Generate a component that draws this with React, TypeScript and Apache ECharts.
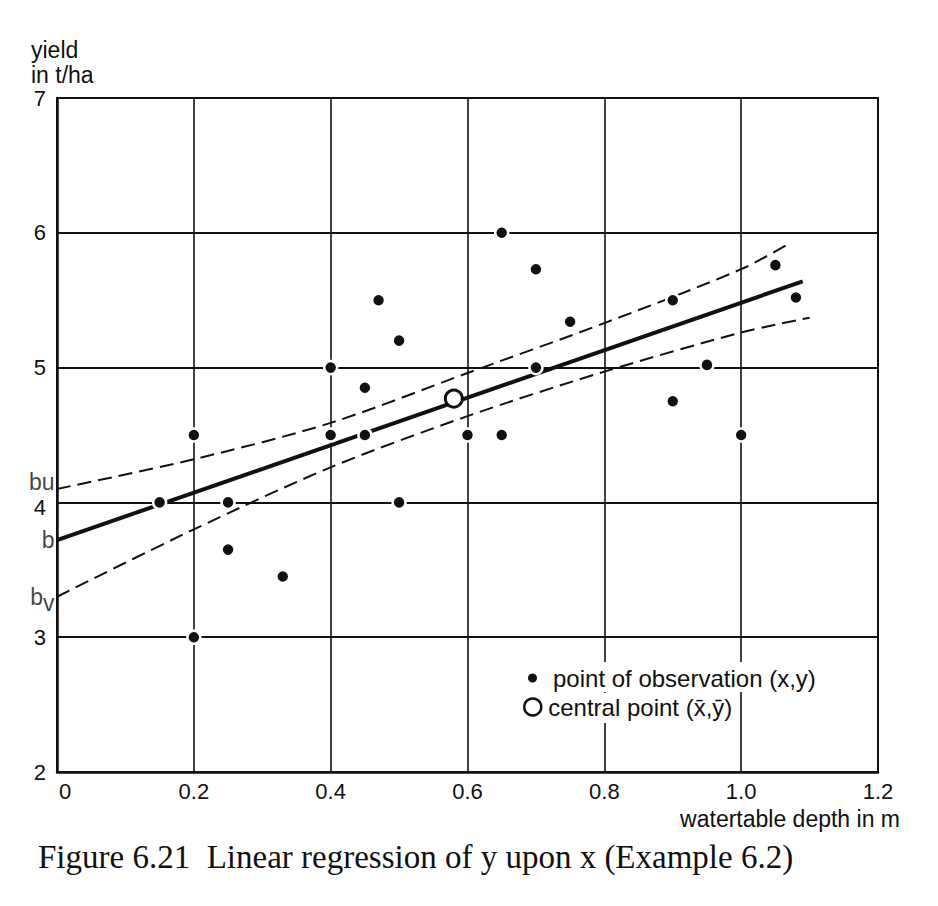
import React, { useEffect, useRef } from "react";
import * as echarts from "echarts";

// Observation points (watertable depth in m, yield in t/ha)
const obsX = [0.15, 0.2, 0.2, 0.25, 0.25, 0.33, 0.4, 0.4, 0.45, 0.45, 0.47, 0.5, 0.5, 0.6, 0.65, 0.65, 0.7, 0.7, 0.75, 0.9, 0.9, 0.95, 1.0, 1.05, 1.08];
const obsY = [4.0, 4.5, 3.0, 4.0, 3.65, 3.45, 5.0, 4.5, 4.85, 4.5, 5.5, 5.2, 4.0, 4.5, 4.5, 6.0, 5.73, 5.0, 5.34, 5.5, 4.75, 5.02, 4.5, 5.76, 5.52];

// Central point (x̄, ȳ)
const centralX = [0.58];
const centralY = [4.77];

// Regression line
const regX = [0, 1.09];
const regY = [3.72, 5.64];

// Confidence band (upper / lower)
const upperX = [0, 0.2, 0.4, 0.6, 0.8, 1.0, 1.07];
const upperY = [4.1, 4.32, 4.59, 4.96, 5.33, 5.73, 5.92];
const lowerX = [0, 0.2, 0.4, 0.6, 0.8, 1.0, 1.1];
const lowerY = [3.3, 3.8, 4.26, 4.64, 4.97, 5.26, 5.37];

// Intercept labels on the y axis
const interceptNames = ["bu", "b", "bv"];
const interceptValues = [4.1, 3.72, 3.3];

// Axis ticks
const xTicks = { min: 0, max: 1.2, interval: 0.2 };
const yTicks = { min: 2, max: 7, interval: 1 };

const OBS_NAME = "point of observation (x,y)";
const CENTRAL_NAME = "central point (x\u0304,\u0233)";
const X_NAME = "watertable depth in m";
const Y_NAME = "yield\nin t/ha";
const CAPTION = "Figure 6.21  Linear regression of y upon x (Example 6.2)";

const SANS = "'Liberation Sans', Arial, Helvetica, sans-serif";
const SERIF = "'Liberation Serif', 'Times New Roman', serif";
const INK = "#111";

function zip(xs: number[], ys: number[]) {
  return xs.map((x, i) => [x, ys[i]]);
}

export default function App() {
  const ref = useRef<HTMLDivElement>(null);

  useEffect(() => {
    document.body.style.margin = "0";
    if (!ref.current) return;
    const chart = echarts.init(ref.current, null, { renderer: "svg" });

    const interceptData = interceptNames.map((n, i) => ({
      value: [0, interceptValues[i]],
      name: n,
      label: n === "bu" ? { offset: [0, -7] } : undefined,
    }));

    const option: any = {
      animation: false,
      backgroundColor: "#fff",
      grid: {
        left: 57,
        right: 60,
        top: 98,
        bottom: 134,
        containLabel: false,
        outerBoundsMode: "none",
        show: true,
        borderColor: INK,
        borderWidth: 2,
      },
      xAxis: {
        type: "value",
        min: xTicks.min,
        max: xTicks.max,
        interval: xTicks.interval,
        axisLine: { show: true, onZero: false, lineStyle: { color: INK, width: 2.5 } },
        axisTick: { show: false },
        splitLine: { show: true, lineStyle: { color: INK, width: 1.6 } },
        axisLabel: {
          color: INK,
          fontSize: 22,
          fontFamily: SANS,
          margin: 8,
          formatter: (v: number) => (v === 0 ? "{z|0}" : v.toFixed(1)),
          rich: { z: { fontSize: 22, fontFamily: SANS, color: INK, padding: [0, 0, 0, 16] } },
        },
      },
      yAxis: {
        type: "value",
        min: yTicks.min,
        max: yTicks.max,
        interval: yTicks.interval,
        axisLine: { show: true, onZero: false, lineStyle: { color: INK, width: 2.5 } },
        axisTick: { show: false },
        splitLine: { show: true, lineStyle: { color: INK, width: 2.2 } },
        axisLabel: {
          color: INK,
          fontSize: 22,
          fontFamily: SANS,
          margin: 11,
          formatter: (v: number) => (v === 4 ? "{f|4}" : String(v)),
          rich: {
            f: { fontSize: 22, fontFamily: SANS, color: INK, lineHeight: 16, padding: [10, 0, 0, 0] },
          },
        },
      },
      legend: [
        {
          data: [{ name: OBS_NAME, icon: "circle", itemStyle: { color: INK, borderWidth: 0 } }],
          left: 524,
          top: 662,
          itemWidth: 9,
          itemHeight: 9,
          padding: [4, 6, 2, 4],
          backgroundColor: "#fff",
          textStyle: { fontSize: 24, color: INK, fontFamily: SANS, padding: [0, 0, 0, 11] },
          selectedMode: false,
        },
        {
          data: [
            {
              name: CENTRAL_NAME,
              icon: "circle",
              itemStyle: { color: "#fff", borderColor: INK, borderWidth: 2.5 },
            },
          ],
          left: 519,
          top: 693,
          itemWidth: 17,
          itemHeight: 17,
          padding: [2, 6, 4, 4],
          backgroundColor: "#fff",
          textStyle: { fontSize: 24, color: INK, fontFamily: SANS, padding: [0, 0, 0, 2] },
          selectedMode: false,
        },
      ],
      graphic: [
        {
          type: "text",
          left: 31,
          top: 37,
          style: {
            text: Y_NAME,
            fontSize: 23,
            lineHeight: 25,
            fontFamily: SANS,
            fill: INK,
          },
        },
        {
          type: "text",
          right: 38,
          top: 807,
          style: {
            text: X_NAME,
            fontSize: 23,
            fontFamily: SANS,
            fill: INK,
          },
        },
        {
          type: "text",
          left: 38,
          top: 840,
          style: {
            text: CAPTION,
            fontSize: 33,
            fontFamily: SERIF,
            fill: INK,
          },
        },
      ],
      series: [
        {
          type: "line",
          name: "upper band",
          data: zip(upperX, upperY),
          symbol: "none",
          smooth: 0.3,
          lineStyle: { color: INK, width: 2, type: [14, 7] },
          z: 3,
        },
        {
          type: "line",
          name: "lower band",
          data: zip(lowerX, lowerY),
          symbol: "none",
          smooth: 0.3,
          lineStyle: { color: INK, width: 2, type: [14, 7] },
          z: 3,
        },
        {
          type: "line",
          name: "regression",
          data: zip(regX, regY),
          symbol: "none",
          lineStyle: { color: INK, width: 4 },
          z: 4,
        },
        {
          type: "scatter",
          name: OBS_NAME,
          data: zip(obsX, obsY),
          symbol: "circle",
          symbolSize: 13,
          itemStyle: { color: INK, borderColor: "#fff", borderWidth: 2.5, opacity: 1 },
          z: 5,
        },
        {
          type: "scatter",
          name: CENTRAL_NAME,
          data: zip(centralX, centralY),
          symbol: "circle",
          symbolSize: 17,
          itemStyle: { color: "#fff", borderColor: INK, borderWidth: 3, opacity: 1 },
          z: 6,
        },
        {
          type: "scatter",
          name: "intercepts",
          data: interceptData,
          symbolSize: 1,
          itemStyle: { color: "rgba(0,0,0,0)" },
          silent: true,
          clip: false,
          z: 6,
          label: {
            show: true,
            position: "left",
            distance: 2,
            formatter: (p: any) => {
              const n = p.name as string;
              if (n === "bv") return "{b|b}{s|v}";
              return "{b|" + n + "}";
            },
            rich: {
              b: { fontSize: 23, fontFamily: SANS, color: INK, lineHeight: 18 },
              s: { fontSize: 23, fontFamily: SANS, color: INK, lineHeight: 18, padding: [12, 0, 0, 0] },
            },
          },
        },
      ],
    };

    chart.setOption(option);
    return () => chart.dispose();
  }, []);

  return <div ref={ref} style={{ width: 938, height: 906 }} />;
}
